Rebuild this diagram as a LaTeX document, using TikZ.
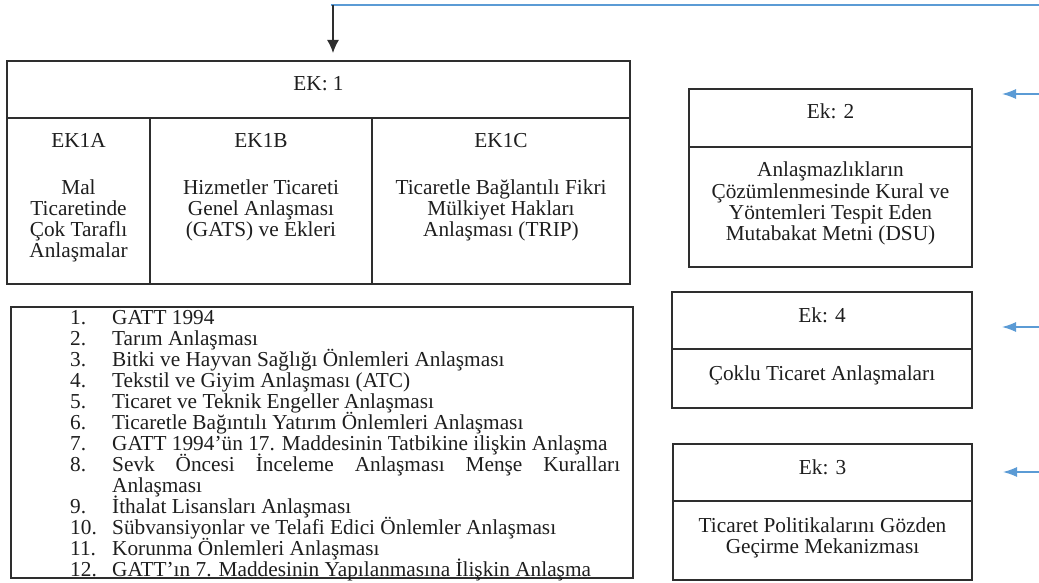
\documentclass[tikz,border=0pt]{standalone}
\usepackage{fontspec}
\setmainfont{Liberation Serif}
\usetikzlibrary{arrows.meta}
\definecolor{tx}{HTML}{1E1E1E}
\definecolor{bd}{HTML}{2E2E2E}
\definecolor{bl}{HTML}{5B9BD5}
\newcommand\mlines[1]{\begin{tabular}[t]{@{}c@{}}#1\end{tabular}}
\begin{document}
\begin{tikzpicture}[x=1pt,y=-1pt,
  box/.style={draw=bd,line width=1.3pt,rectangle,inner sep=0pt,outer sep=0pt,anchor=north west},
  txt/.style={text=tx,inner sep=0pt,anchor=base,font=\fontsize{21.3}{20.8}\selectfont},
  itm/.style={txt,anchor=base west},
  bluearrow/.style={draw=bl,line width=1.2pt,-{Latex[length=14pt,width=10pt]}},
]
\useasboundingbox (0,0) rectangle (1039,583);
% boxes
\node[box,minimum width=623pt,minimum height=57pt] (ek1top) at (7,61) {};
\node[box,minimum width=143pt,minimum height=166pt] (ek1a) at (7,118) {};
\node[box,minimum width=222pt,minimum height=166pt] (ek1b) at (150,118) {};
\node[box,minimum width=258pt,minimum height=166pt] (ek1c) at (372,118) {};
\node[box,minimum width=283pt,minimum height=58pt] (ek2top) at (689,89) {};
\node[box,minimum width=283pt,minimum height=120pt] (ek2body) at (689,147) {};
\node[box,minimum width=622pt,minimum height=271pt] (list) at (11,307) {};
\node[box,minimum width=300pt,minimum height=57pt] (ek4top) at (672,292) {};
\node[box,minimum width=300pt,minimum height=59pt] (ek4body) at (672,349) {};
\node[box,minimum width=299pt,minimum height=57pt] (ek3top) at (673,444) {};
\node[box,minimum width=299pt,minimum height=79pt] (ek3body) at (673,501) {};
% texts
\node[txt] (t1) at (318.5,91) {EK: 1};
\node[txt] (t1a) at (78.5,148) {EK1A};
\node[txt] (t1b) at (261,148) {EK1B};
\node[txt] (t1c) at (501,148) {EK1C};
\node[txt] (b1a) at (78.5,194) {\mlines{Mal\\Ticaretinde\\Çok Taraflı\\Anlaşmalar}};
\node[txt] (b1b) at (261,194) {\mlines{Hizmetler Ticareti\\Genel Anlaşması\\(GATS) ve Ekleri}};
\node[txt] (b1c) at (501,194) {\mlines{Ticaretle Bağlantılı Fikri\\Mülkiyet Hakları\\Anlaşması (TRIP)}};
\node[txt] (t2) at (830.5,119) {Ek: 2};
\node[txt] (b2) at (830.5,177) {\mlines{Anlaşmazlıkların\\Çözümlenmesinde Kural ve\\Yöntemleri Tespit Eden\\Mutabakat Metni (DSU)}};
\node[txt] (t4) at (822,322) {Ek: 4};
\node[txt] (b4) at (822,380) {Çoklu Ticaret Anlaşmaları};
\node[txt] (t3) at (822.5,474) {Ek: 3};
\node[txt] (b3) at (822.5,532) {\mlines{Ticaret Politikalarını Gözden\\Geçirme Mekanizması}};
% list items
\foreach \i/\n/\t in {
  1/1./GATT 1994,
  2/2./Tarım Anlaşması,
  3/3./Bitki ve Hayvan Sağlığı Önlemleri Anlaşması,
  4/4./Tekstil ve Giyim Anlaşması (ATC),
  5/5./Ticaret ve Teknik Engeller Anlaşması,
  6/6./Ticaretle Bağıntılı Yatırım Önlemleri Anlaşması,
  7/7./GATT 1994’ün 17. Maddesinin Tatbikine ilişkin Anlaşma,
  8/8./{\makebox[508pt][s]{Sevk Öncesi İnceleme Anlaşması Menşe Kuralları}},
  9//Anlaşması,
  10/9./İthalat Lisansları Anlaşması,
  11/10./Sübvansiyonlar ve Telafi Edici Önlemler Anlaşması,
  12/11./Korunma Önlemleri Anlaşması,
  13/12./GATT’ın 7. Maddesinin Yapılanmasına İlişkin Anlaşma}{
  \node[itm] (num\i) at (70,{303+21*\i}) {\n};
  \node[itm] (item\i) at (112,{303+21*\i}) {\t};
}
% connectors
\coordinate (topright) at (1039,5);
\coordinate (topleft) at (331,5);
\coordinate (drop) at (333,5);
\coordinate (droptip) at (333,53);
\draw[bl,line width=1.2pt] (topright) -- (topleft);
\draw[bd,line width=1.3pt,-{Latex[length=13pt,width=12pt]}] (drop) -- (droptip);
\coordinate (a2s) at (1039,94);  \coordinate (a2e) at (1002,94);
\coordinate (a4s) at (1039,327); \coordinate (a4e) at (1002,327);
\coordinate (a3s) at (1039,472); \coordinate (a3e) at (1003,472);
\draw[bluearrow] (a2s) -- (a2e);
\draw[bluearrow] (a4s) -- (a4e);
\draw[bluearrow] (a3s) -- (a3e);
\end{tikzpicture}
\end{document}
